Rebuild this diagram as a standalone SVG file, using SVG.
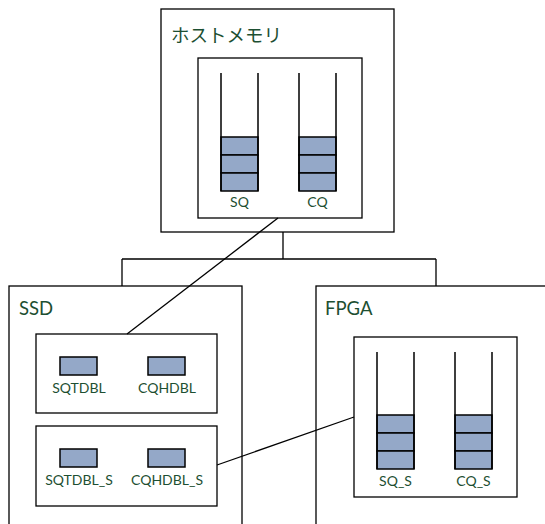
<svg xmlns="http://www.w3.org/2000/svg" width="545" height="524" viewBox="0 0 545 524">
<style>
.box{fill:#fff;stroke:#000;stroke-width:1.3}
.q{fill:none;stroke:#000;stroke-width:1.5}
.blk{fill:#94a8c8;stroke:#000;stroke-width:1.5}
.ln{fill:none;stroke:#000;stroke-width:1.3}
.t{font-family:Lato,"Noto Sans CJK JP",sans-serif;fill:#1d4f32}
.title{font-size:18.5px}
.lab{font-size:14px;text-anchor:middle}
</style>
<rect width="545" height="524" fill="#fff"/>
<g id="connectors">
<path class="ln" d="M283,232 V259 M122,259 H436 M122,259 V286 M436,259 V286"/>
</g>
<g id="host">
<rect class="box" x="161" y="9" width="233" height="223"/>
<text class="t title" x="171" y="42">ホストメモリ</text>
<rect class="box" x="198" y="58" width="164" height="160"/>
<g id="sq">
<rect class="blk" x="221" y="137" width="37" height="18"/>
<rect class="blk" x="221" y="155" width="37" height="18"/>
<rect class="blk" x="221" y="173" width="37" height="18"/>
<path class="q" d="M221,73 V191 M258,73 V191"/>
<text class="t lab" x="239.5" y="207">SQ</text>
</g>
<g id="cq">
<rect class="blk" x="299" y="137" width="37" height="18"/>
<rect class="blk" x="299" y="155" width="37" height="18"/>
<rect class="blk" x="299" y="173" width="37" height="18"/>
<path class="q" d="M299,73 V191 M336,73 V191"/>
<text class="t lab" x="317.5" y="207">CQ</text>
</g>
</g>
<g id="ssd">
<rect class="box" x="9" y="286" width="233" height="250"/>
<text class="t title" x="19" y="315">SSD</text>
<rect class="box" x="36" y="334" width="181" height="79"/>
<rect class="blk" x="60" y="357" width="37" height="18"/>
<rect class="blk" x="148" y="357" width="37" height="18"/>
<text class="t lab" x="79" y="393">SQTDBL</text>
<text class="t lab" x="167" y="393">CQHDBL</text>
<rect class="box" x="36" y="426" width="181" height="80"/>
<rect class="blk" x="60" y="449" width="37" height="18"/>
<rect class="blk" x="148" y="449" width="37" height="18"/>
<text class="t lab" x="79" y="485">SQTDBL_S</text>
<text class="t lab" x="167" y="485">CQHDBL_S</text>
</g>
<g id="fpga">
<rect class="box" x="316" y="286" width="240" height="250"/>
<text class="t title" x="325" y="315">FPGA</text>
<rect class="box" x="354" y="337" width="163" height="160"/>
<g id="sq_s">
<rect class="blk" x="377" y="415" width="37" height="18"/>
<rect class="blk" x="377" y="433" width="37" height="18"/>
<rect class="blk" x="377" y="451" width="37" height="18"/>
<path class="q" d="M377,352 V469 M414,352 V469"/>
<text class="t lab" x="395.5" y="486">SQ_S</text>
</g>
<g id="cq_s">
<rect class="blk" x="455" y="415" width="37" height="18"/>
<rect class="blk" x="455" y="433" width="37" height="18"/>
<rect class="blk" x="455" y="451" width="37" height="18"/>
<path class="q" d="M455,352 V469 M492,352 V469"/>
<text class="t lab" x="473.5" y="486">CQ_S</text>
</g>
</g>
<g id="links">
<path class="ln" d="M278,218 L127,334"/>
<path class="ln" d="M217,465 L354,417"/>
</g>
</svg>
